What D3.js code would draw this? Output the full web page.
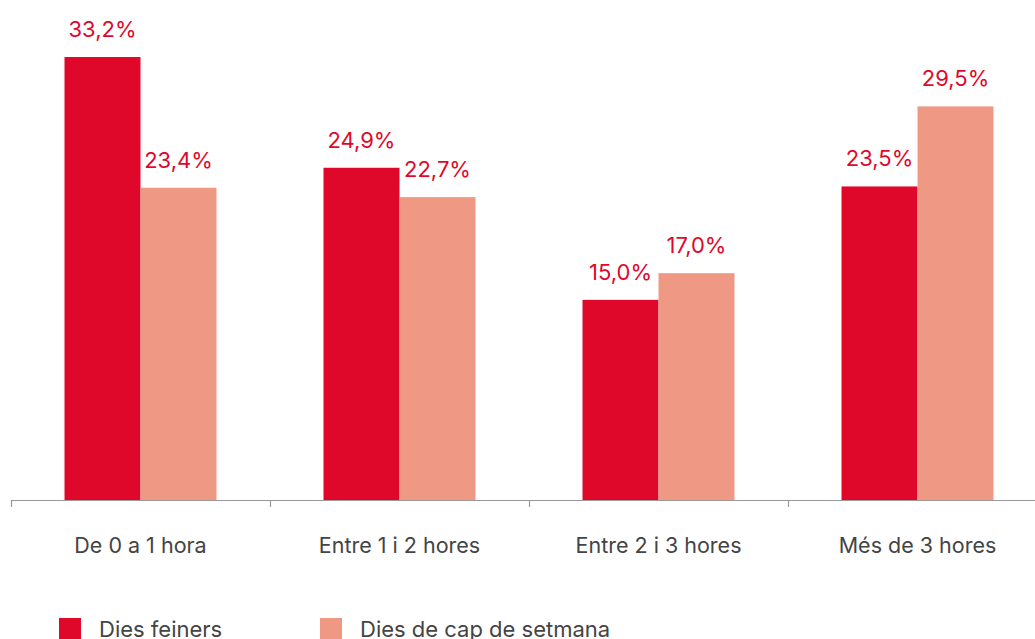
<!DOCTYPE html>
<html><head><meta charset="utf-8">
<script src="https://cdn.jsdelivr.net/npm/d3@7"></script>
<style>
html,body{margin:0;padding:0;background:#fff;overflow:hidden}
svg{display:block;font-family:Inter, Roboto, sans-serif}
</style></head>
<body><svg id="c" width="1035" height="639"></svg>
<script>
const categories = ["De 0 a 1 hora", "Entre 1 i 2 hores", "Entre 2 i 3 hores", "Més de 3 hores"];
const seriesNames = ["Dies feiners", "Dies de cap de setmana"];
const feiners = [33.2, 24.9, 15.0, 23.5];
const capSetmana = [23.4, 22.7, 17.0, 29.5];
const colors = ["#E0082A", "#EF9984"];

const svg = d3.select("#c");
const x0 = d3.scaleBand().domain(categories).range([11, 1047]).padding(0);
const x1 = d3.scaleBand().domain(seriesNames).range([0, x0.bandwidth()]).paddingInner(0).paddingOuter(0.704);
const y = d3.scaleLinear().domain([0, 35]).range([500, 33]);

const data = categories.map((c, i) => ({cat: c, vals: [feiners[i], capSetmana[i]]}));

const g = svg.append("g");
const groups = g.selectAll("g.grp").data(data).join("g")
  .attr("transform", d => `translate(${x0(d.cat)},0)`);
groups.selectAll("rect").data(d => d.vals.map((v, k) => ({k, v}))).join("rect")
  .attr("x", d => x1(seriesNames[d.k]))
  .attr("width", x1.bandwidth())
  .attr("y", d => y(d.v))
  .attr("height", d => y(0) - y(d.v))
  .attr("fill", d => colors[d.k]);
groups.selectAll("text").data(d => d.vals.map((v, k) => ({k, v}))).join("text")
  .attr("x", d => x1(seriesNames[d.k]) + x1.bandwidth() / 2)
  .attr("y", d => y(d.v) - 20)
  .attr("text-anchor", "middle")
  .attr("font-size", 22)
  .attr("fill", "#E0082A")
  .text(d => d.v.toFixed(1).replace(".", ",") + "%");

// axis
const axis = d3.axisBottom(x0).tickSize(0).tickPadding(0);
const ag = svg.append("g").attr("transform", "translate(0,500)").call(axis);
ag.select(".domain").attr("stroke", "#999").attr("stroke-width", 1.2).attr("d", "M11,0.5H1047");
ag.selectAll(".tick line").remove();
ag.selectAll(".tick text").attr("y", 53).attr("dy", "0").attr("font-size", 21.5).attr("fill", "#444")
  .attr("font-family", "Inter, Roboto, sans-serif");
const boundaries = categories.map(c => x0(c));
ag.selectAll("line.bnd").data(boundaries).join("line").attr("class", "bnd")
  .attr("x1", d => d + 0.5).attr("x2", d => d + 0.5).attr("y1", 0).attr("y2", 7)
  .attr("stroke", "#999").attr("stroke-width", 1.2);

// legend
const legX = [59, 320];
const lg = svg.selectAll("g.leg").data(seriesNames).join("g").attr("class", "leg")
  .attr("transform", (d, i) => `translate(${legX[i]},618)`);
lg.append("rect").attr("width", 22).attr("height", 22).attr("fill", (d, i) => colors[i]);
lg.append("text").attr("x", 40).attr("y", 19).attr("font-size", 22).attr("fill", "#444").text(d => d);
</script></body></html>
